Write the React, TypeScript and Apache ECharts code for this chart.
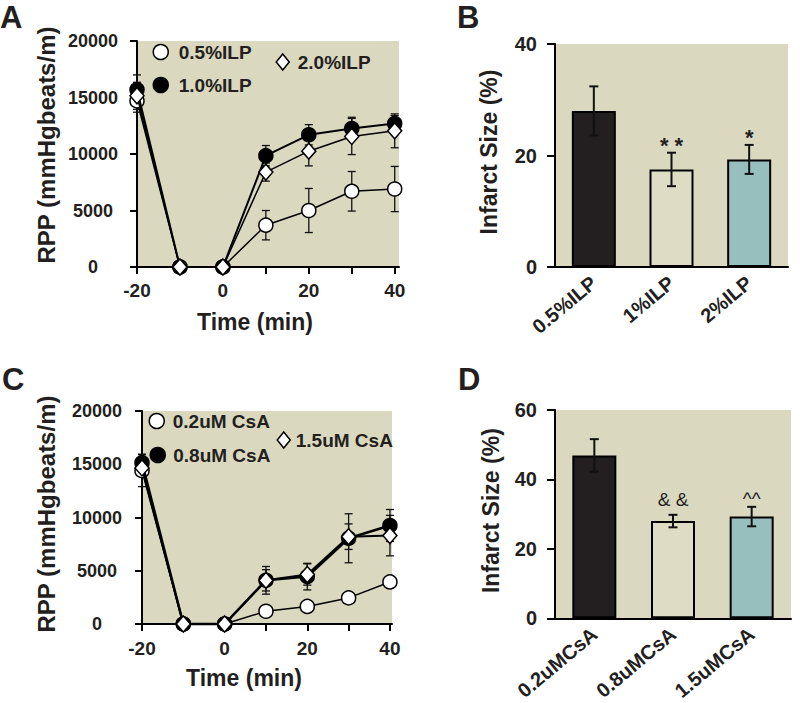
import React, { useEffect, useRef } from "react";
import * as echarts from "echarts";

// ---------- data ----------
const timeMin = [-20, -10, 0, 10, 20, 30, 40];
const timeTicks = [-20, -10, 0, 10, 20, 30, 40];
const timeTickLabels = [-20, 0, 20, 40];

const ilp05 = [14700, 0, 0, 3700, 5000, 6700, 6900];
const ilp05Err = [1000, 0, 0, 1300, 1950, 1750, 2000];
const ilp10 = [15700, 0, 0, 9850, 11700, 12250, 12700];
const ilp10Err = [1300, 0, 0, 900, 900, 1000, 700];
const ilp20 = [15150, 0, 0, 8400, 10250, 11550, 12050];
const ilp20Err = [1200, 0, 0, 800, 1300, 1600, 1500];

const csa02 = [14400, 0, 0, 1200, 1650, 2450, 3950];
const csa02Err = [1500, 0, 0, 300, 300, 400, 400];
const csa08 = [15150, 0, 0, 4100, 4450, 8050, 9250];
const csa08Err = [800, 0, 0, 1300, 1250, 2300, 1500];
const csa15 = [14650, 0, 0, 4100, 4650, 8200, 8300];
const csa15Err = [800, 0, 0, 1000, 1000, 1200, 1900];

const ilpGroups = ["0.5%ILP", "1%ILP", "2%ILP"];
const ilpInfarct = [28.0, 17.5, 19.3];
const ilpInfarctErr = [4.4, 3.0, 2.6];
const ilpSig = ["", "* *", "*"];

const csaGroups = ["0.2uMCsA", "0.8uMCsA", "1.5uMCsA"];
const csaInfarct = [46.9, 28.0, 29.3];
const csaInfarctErr = [4.7, 1.8, 2.8];
const csaSig = ["", "& &", "^^"];

// ---------- style ----------
const INK = "#231f20";
const BG = "#dad8bf";
const FONT = "'Liberation Sans', Arial, Helvetica, sans-serif";
const barColors = ["#231f20", "#dedcc5", "#97bfbd"];

const axisLineStyle = { color: "#000", width: 2 };
const plain = (v: number) => String(v);

function lineSeries(name: string, axis: number, values: number[], symbol: string, fill: string, lw: number, size: any, z: number) {
  return {
    type: "line",
    name,
    xAxisIndex: axis,
    yAxisIndex: axis,
    data: timeMin.map((t, i) => [t, values[i]]),
    symbol,
    symbolSize: size,
    clip: false,
    z,
    itemStyle: { color: fill, borderColor: "#000", borderWidth: 1.5 },
    lineStyle: { color: "#000", width: lw },
    emphasis: { disabled: true },
  };
}

function errSeries(axis: number, data: number[][], cap: number, lw: number, z: number, sig?: string[], sigFont?: string, gapFn?: (s: string) => number) {
  return {
    type: "custom",
    xAxisIndex: axis,
    yAxisIndex: axis,
    data,
    z,
    silent: true,
    clip: false,
    encode: { x: 0, y: 1 },
    renderItem: (params: any, api: any) => {
      const xv = api.value(0);
      const yv = api.value(1);
      const e = api.value(2);
      const children: any[] = [];
      const top = api.coord([xv, yv + e]);
      if (e > 0) {
        const bot = api.coord([xv, yv - e]);
        const st = { stroke: "#111", lineWidth: lw };
        children.push({ type: "line", shape: { x1: top[0], y1: top[1], x2: bot[0], y2: bot[1] }, style: st });
        children.push({ type: "line", shape: { x1: top[0] - cap / 2, y1: top[1], x2: top[0] + cap / 2, y2: top[1] }, style: st });
        children.push({ type: "line", shape: { x1: bot[0] - cap / 2, y1: bot[1], x2: bot[0] + cap / 2, y2: bot[1] }, style: st });
      }
      const s = sig ? sig[params.dataIndex] : "";
      if (s) {
        children.push({
          type: "text",
          x: top[0],
          y: top[1] - (gapFn ? gapFn(s) : 8),
          style: { text: s, fill: INK, font: sigFont, align: "center", verticalAlign: "middle" },
        });
      }
      return { type: "group", children };
    },
  };
}

function legend(name: string, icon: string, left: number, cy: number, w: number, h: number, fill: string, pad: number) {
  return {
    data: [name],
    left,
    top: cy - 10,
    padding: 0,
    icon,
    itemWidth: w,
    itemHeight: h,
    selectedMode: false,
    itemStyle: { color: fill, borderColor: "#000", borderWidth: 1.5 },
    textStyle: { color: INK, fontSize: 19, fontWeight: "bold", fontFamily: FONT, lineHeight: 20, padding: [0, 0, 0, pad] },
  };
}

function timeAxis(grid: number, max: number, namePadRight: number, nameGap: number, labelMargin: number) {
  return {
    type: "value",
    gridIndex: grid,
    min: -20,
    max,
    axisLine: { show: true, onZero: false, lineStyle: axisLineStyle },
    axisTick: { show: true, customValues: timeTicks, length: 7, lineStyle: axisLineStyle },
    axisLabel: { customValues: timeTickLabels, formatter: plain, fontSize: 19, fontWeight: "bold", color: INK, fontFamily: FONT, margin: labelMargin },
    splitLine: { show: false },
    name: "Time (min)",
    nameLocation: "middle",
    nameGap,
    nameTextStyle: { fontSize: 23, fontWeight: "bold", color: INK, fontFamily: FONT, padding: [0, namePadRight, 0, 0] },
  };
}

function rppAxis(grid: number, nameGap: number, labelMargin: number, namePadLeft: number) {
  return {
    type: "value",
    gridIndex: grid,
    min: 0,
    max: 20000,
    interval: 5000,
    axisLine: { show: true, onZero: false, lineStyle: axisLineStyle },
    axisTick: { show: true, length: 7, lineStyle: axisLineStyle },
    axisLabel: { formatter: plain, fontSize: 18, fontWeight: "bold", color: INK, fontFamily: FONT, align: "center", margin: labelMargin },
    splitLine: { show: false },
    name: "RPP (mmHgbeats/m)",
    nameLocation: "middle",
    nameGap,
    nameTextStyle: { fontSize: 24, fontWeight: "bold", color: INK, fontFamily: FONT, padding: [0, 0, 0, namePadLeft] },
  };
}

function catAxis(grid: number, cats: string[]) {
  return {
    type: "category",
    gridIndex: grid,
    data: cats,
    axisLine: { show: true, onZero: false, lineStyle: axisLineStyle },
    axisTick: { show: false },
    axisLabel: { rotate: 40, interval: 0, fontSize: 20, fontWeight: "bold", color: INK, fontFamily: FONT, margin: 13 },
    splitLine: { show: false },
  };
}

function infarctAxis(grid: number, max: number, nameGap: number) {
  return {
    type: "value",
    gridIndex: grid,
    min: 0,
    max,
    interval: 20,
    axisLine: { show: true, onZero: false, lineStyle: axisLineStyle },
    axisTick: { show: true, length: 8, lineStyle: axisLineStyle },
    axisLabel: { formatter: plain, fontSize: 20, fontWeight: "bold", color: INK, fontFamily: FONT, margin: 18 },
    splitLine: { show: false },
    name: "Infarct Size (%)",
    nameLocation: "middle",
    nameGap,
    nameTextStyle: { fontSize: 23, fontWeight: "bold", color: INK, fontFamily: FONT, padding: [0, 0, 0, 7] },
  };
}

function barSeries(name: string, axis: number, values: number[]) {
  return {
    type: "bar",
    name,
    xAxisIndex: axis,
    yAxisIndex: axis,
    barWidth: 44,
    z: 2,
    data: values.map((v, i) => ({ value: v, itemStyle: { color: barColors[i] } })),
    itemStyle: { borderColor: "#000", borderWidth: 2 },
    emphasis: { disabled: true },
  };
}

const withErr = (xs: number[], vals: number[], errs: number[]) => xs.map((x, i) => [x, vals[i], errs[i]]);
const idx = (arr: any[]) => arr.map((_, i) => i);

export default function App() {
  const ref = useRef<HTMLDivElement>(null);
  useEffect(() => {
    if (!ref.current) return;
    const chart = echarts.init(ref.current, undefined, { renderer: "svg" });
    const gridStyle = { show: true, backgroundColor: BG, borderWidth: 0, containLabel: false };
    const option: any = {
      animation: false,
      textStyle: { fontFamily: FONT },
      grid: [
        { ...gridStyle, left: 137, top: 41, width: 262, height: 226 },
        { ...gridStyle, left: 555, top: 44, width: 233, height: 223 },
        { ...gridStyle, left: 142, top: 411, width: 250, height: 213 },
        { ...gridStyle, left: 555, top: 410, width: 236, height: 213 },
      ],
      xAxis: [
        timeAxis(0, 41, 26, 43, 14),
        catAxis(1, ilpGroups),
        timeAxis(2, 40.5, 46, 42, 15),
        catAxis(3, csaGroups),
      ],
      yAxis: [
        rppAxis(0, 79, 44, 18),
        infarctAxis(1, 40, 55),
        rppAxis(2, 84, 45, 7),
        infarctAxis(3, 60, 53),
      ],
      legend: [
        legend("0.5%ILP", "circle", 152.5, 52, 15, 15, "#fff", 5.5),
        legend("1.0%ILP", "circle", 152.5, 85, 15, 15, "#000", 5.5),
        legend("2.0%ILP", "diamond", 275.5, 62, 13, 16, "#fff", 3.5),
        legend("0.2uM CsA", "circle", 148.5, 421, 15, 15, "#fff", 3.5),
        legend("0.8uM CsA", "circle", 149.5, 455, 15, 15, "#000", 3),
        legend("1.5uM CsA", "diamond", 276.5, 440, 13, 16, "#fff", 0.5),
      ],
      graphic: [
        { type: "text", left: 0, top: 2, style: { text: "A", font: `bold 31px ${FONT}`, fill: INK } },
        { type: "text", left: 457, top: 2, style: { text: "B", font: `bold 31px ${FONT}`, fill: INK } },
        { type: "text", left: 2, top: 364, style: { text: "C", font: `bold 31px ${FONT}`, fill: INK } },
        { type: "text", left: 458, top: 364, style: { text: "D", font: `bold 31px ${FONT}`, fill: INK } },
      ],
      series: [
        errSeries(0, withErr(timeMin, ilp05, ilp05Err), 8, 1.3, 1),
        errSeries(0, withErr(timeMin, ilp10, ilp10Err), 8, 1.3, 1),
        errSeries(0, withErr(timeMin, ilp20, ilp20Err), 8, 1.3, 1),
        lineSeries("0.5%ILP", 0, ilp05, "circle", "#fff", 1.5, 14, 3),
        lineSeries("1.0%ILP", 0, ilp10, "circle", "#000", 2, 14, 4),
        lineSeries("2.0%ILP", 0, ilp20, "diamond", "#fff", 1.5, [14, 16], 5),

        barSeries("Infarct size ILP", 1, ilpInfarct),
        errSeries(1, withErr(idx(ilpGroups), ilpInfarct, ilpInfarctErr), 9, 2, 6, ilpSig, `bold 22px ${FONT}`, () => 7.5),

        errSeries(2, withErr(timeMin, csa02, csa02Err), 8, 1.3, 1),
        errSeries(2, withErr(timeMin, csa08, csa08Err), 8, 1.3, 1),
        errSeries(2, withErr(timeMin, csa15, csa15Err), 8, 1.3, 1),
        lineSeries("0.2uM CsA", 2, csa02, "circle", "#fff", 1.5, 14, 3),
        lineSeries("0.8uM CsA", 2, csa08, "circle", "#000", 2.5, 14, 4),
        lineSeries("1.5uM CsA", 2, csa15, "diamond", "#fff", 2, [14, 16], 5),

        barSeries("Infarct size CsA", 3, csaInfarct),
        errSeries(3, withErr(idx(csaGroups), csaInfarct, csaInfarctErr), 9, 2, 6, csaSig, `19px ${FONT}`, (s: string) => (s.includes("^") ? 8 : 15)),
      ],
    };
    chart.setOption(option);
    return () => chart.dispose();
  }, []);
  return <div ref={ref} style={{ position: "absolute", left: 0, top: 0, width: 800, height: 703 }} />;
}
